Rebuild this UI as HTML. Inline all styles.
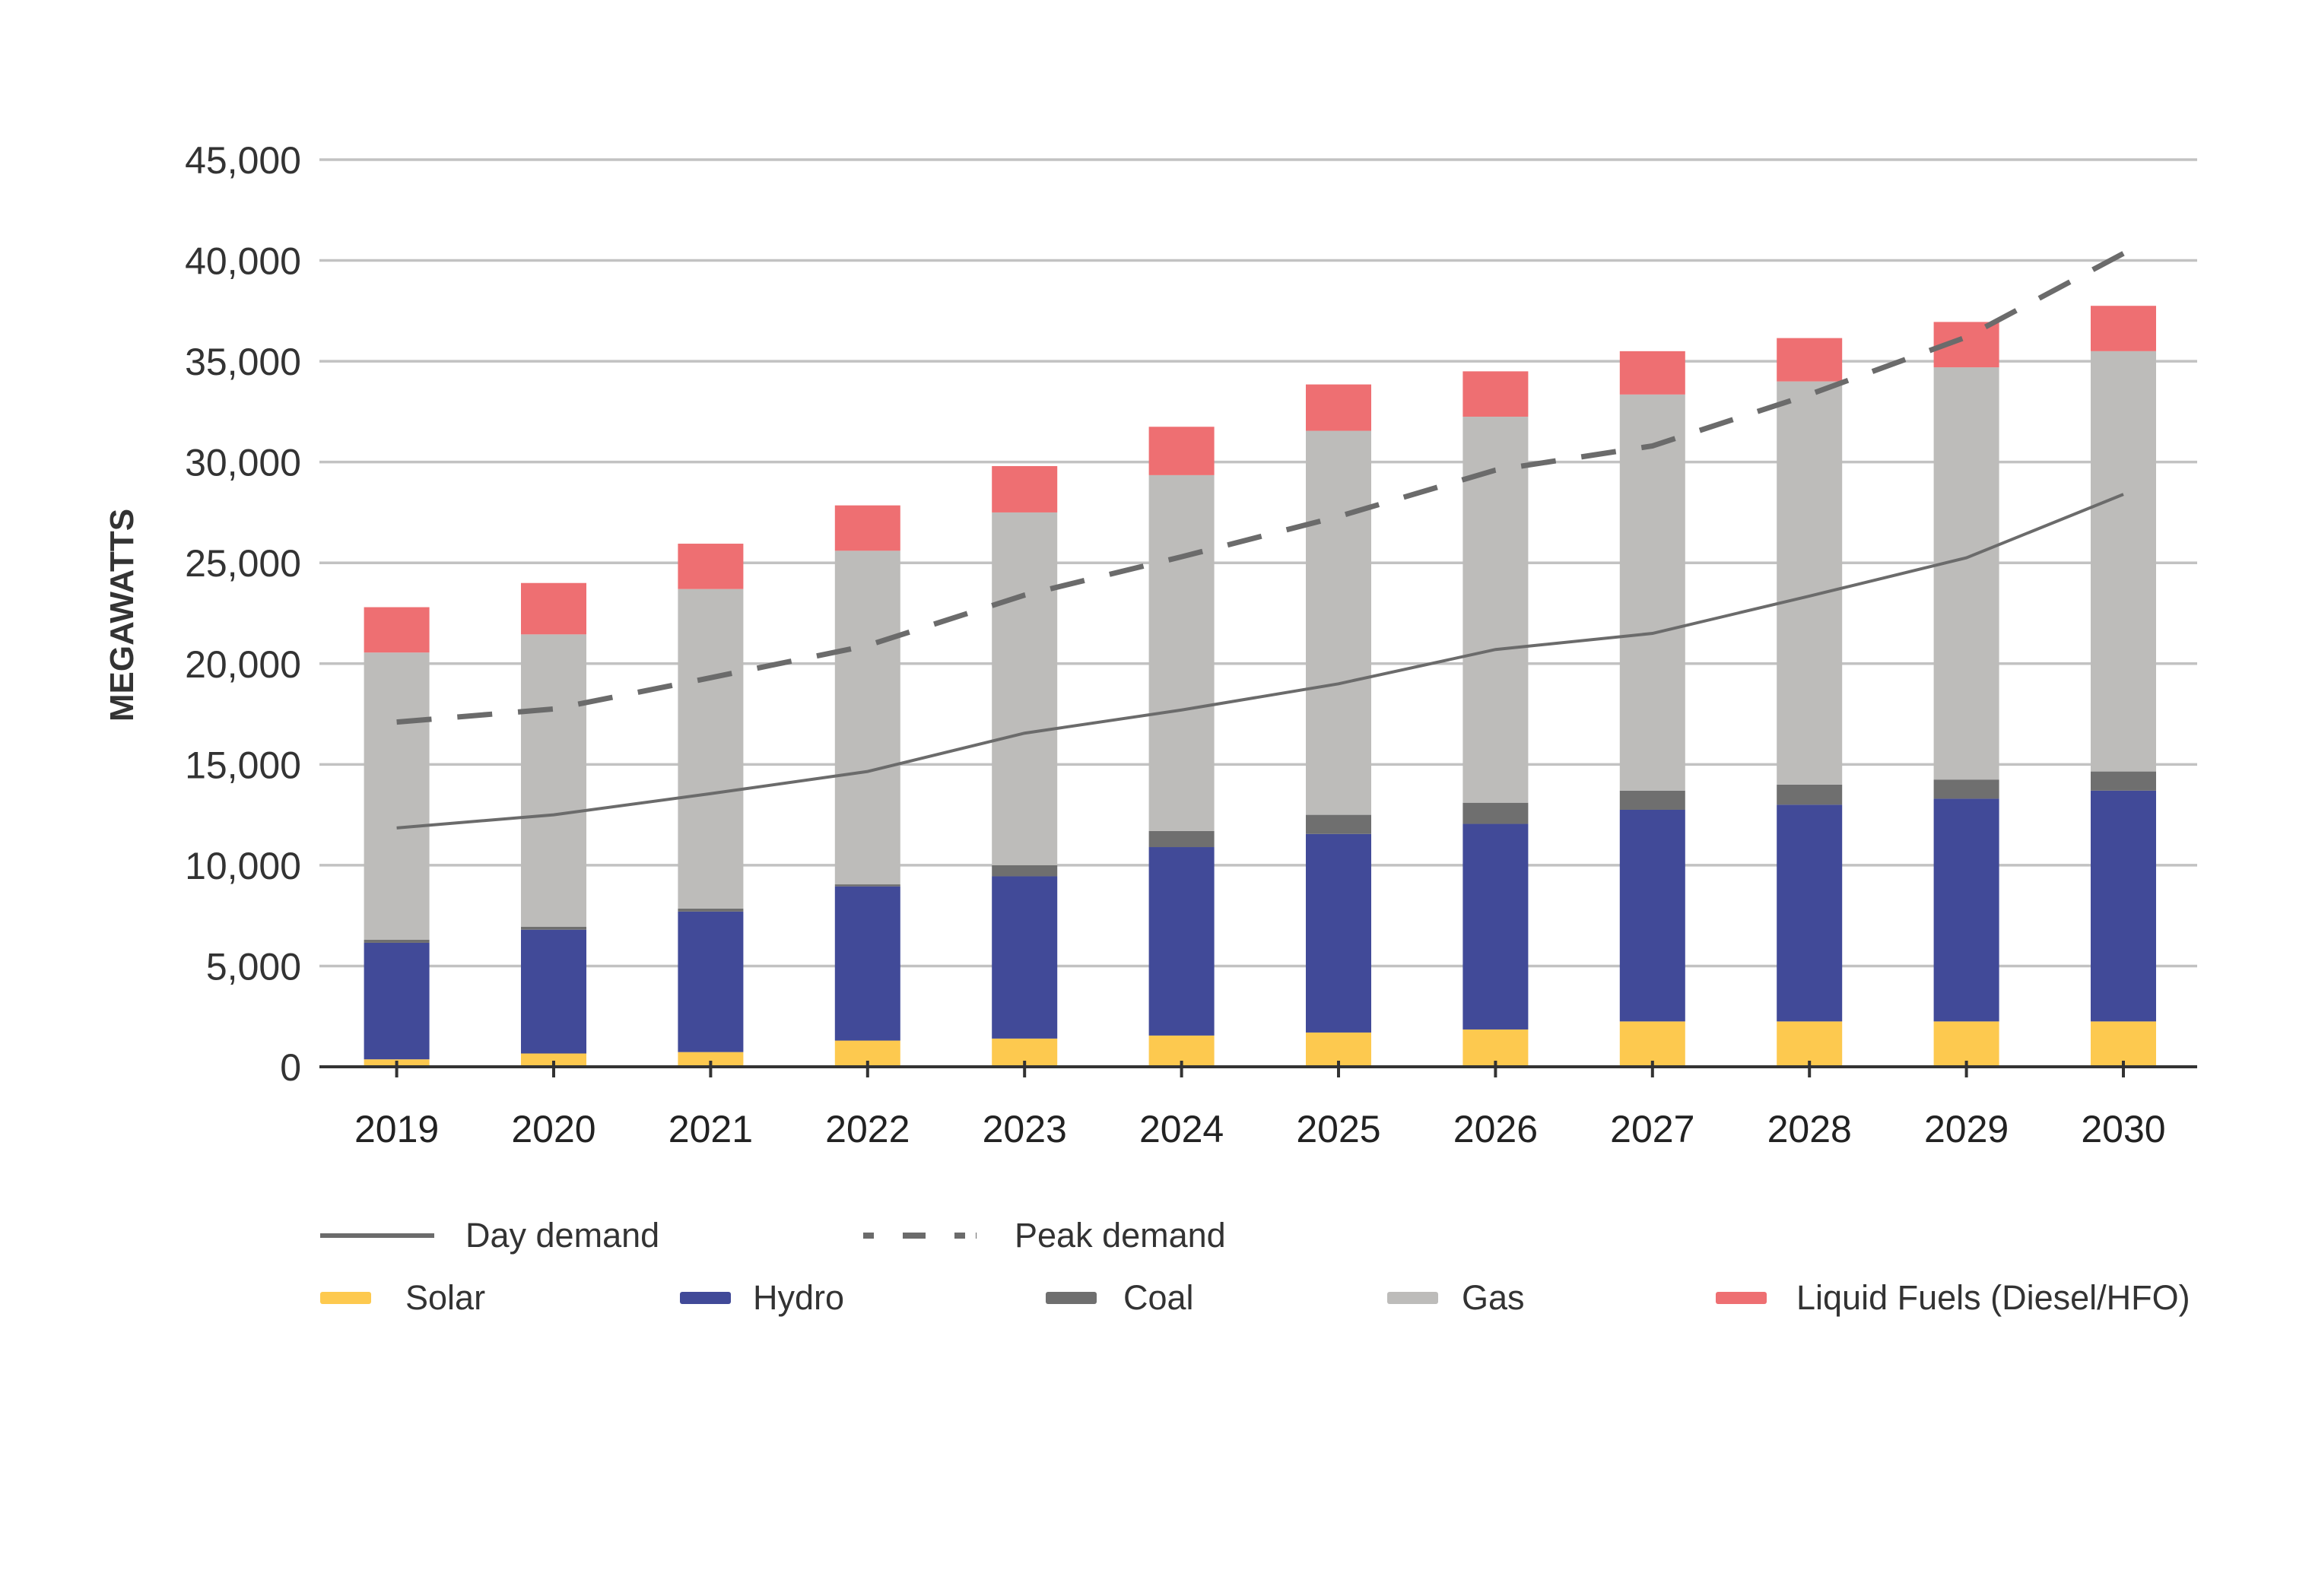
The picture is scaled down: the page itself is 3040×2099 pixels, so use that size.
<!DOCTYPE html>
<html><head><meta charset="utf-8"><style>
html,body{margin:0;padding:0;background:#fff;}
svg{display:block;font-family:"Liberation Sans",sans-serif;}
</style></head><body>
<svg id="chart" width="3040" height="2099" viewBox="0 0 3040 2099">
<g id="grid"></g>
<g id="ylabels"></g>
<g id="bars"></g>
<g id="lines"></g>
<g id="xaxis"></g>
<text transform="translate(175,809) rotate(-90)" text-anchor="middle" font-size="44" font-weight="bold" fill="#333">MEGAWATTS</text>
<g>
 <g><line x1="421" y1="1625" x2="571" y2="1625" stroke="#6b6b6b" stroke-width="6"/><text x="612" y="1640" font-size="45" fill="#333">Day demand</text></g>
 <g><line x1="1135" y1="1625" x2="1284" y2="1625" stroke="#6b6b6b" stroke-width="8" stroke-dasharray="14,38,30,38,14"/><text x="1334" y="1640" font-size="45" fill="#333">Peak demand</text></g>
 <g><rect x="421" y="1699" width="67" height="16" rx="3" fill="#FDC94F"/><text x="533" y="1722" font-size="45" fill="#333">Solar</text></g>
 <g><rect x="894" y="1699" width="67" height="16" rx="3" fill="#414A98"/><text x="990" y="1722" font-size="45" fill="#333">Hydro</text></g>
 <g><rect x="1375" y="1699" width="67" height="16" rx="3" fill="#6F6F6F"/><text x="1477" y="1722" font-size="45" fill="#333">Coal</text></g>
 <g><rect x="1824" y="1699" width="67" height="16" rx="3" fill="#BDBCBA"/><text x="1922" y="1722" font-size="45" fill="#333">Gas</text></g>
 <g><rect x="2256" y="1699" width="67" height="16" rx="3" fill="#EE6F72"/><text x="2362" y="1722" font-size="45" fill="#333">Liquid Fuels (Diesel/HFO)</text></g>
</g>
</svg>
<script>
const years = ["2019","2020","2021","2022","2023","2024","2025","2026","2027","2028","2029","2030"];
const solarTop = [370,660,730,1300,1400,1550,1700,1850,2250,2250,2250,2250];
const hydroTop = [6150,6800,7700,8950,9450,10900,11550,12050,12750,13000,13300,13700];
const coalTop = [6300,6950,7850,9050,10000,11700,12500,13100,13700,14000,14250,14650];
const gasTop = [20550,21450,23700,25600,27500,29350,31550,32250,33350,34000,34700,35500];
const liquidTop = [22800,24000,25950,27850,29800,31750,33850,34500,35500,36150,36950,37750];
const dayDemand = [11850,12500,13550,14650,16550,17700,19000,20700,21500,23350,25250,28400];
const peakDemand = [17100,17750,19300,20900,23400,25300,27300,29600,30800,33350,36200,40350];
const yTicks = [0,5000,10000,15000,20000,25000,30000,35000,40000,45000];
const yTickLabels = ["0","5,000","10,000","15,000","20,000","25,000","30,000","35,000","40,000","45,000"];

const NS="http://www.w3.org/2000/svg";
const X0=420,X1=2889,Y0=1403,YTOP=210,VMAX=45000;
const y=v=>Y0-(v/VMAX)*(Y0-YTOP);
const FIRST=521.6,STEP=206.4;
const xc=i=>FIRST+STEP*i;
const BW=86;
function mk(tag,attrs,parent){const e=document.createElementNS(NS,tag);for(const k in attrs)e.setAttribute(k,attrs[k]);parent.appendChild(e);return e;}

const grid=document.getElementById('grid'),yl=document.getElementById('ylabels');
yTicks.forEach((t,i)=>{
  if(t>0){const l=mk('line',{x1:X0,x2:X1,y1:y(t),y2:y(t),stroke:'#c2c2c2','stroke-width':3.5},grid);
  
  }
  const tx=mk('text',{x:396,y:y(t)+18,'text-anchor':'end','font-size':50,fill:'#333'},yl);
  tx.textContent=yTickLabels[i];
  
  
});

const bars=document.getElementById('bars');
const series=[["solar",null,solarTop,"#FDC94F"],["hydro",solarTop,hydroTop,"#414A98"],["coal",hydroTop,coalTop,"#6F6F6F"],["gas",coalTop,gasTop,"#BDBCBA"],["liquid-fuels",gasTop,liquidTop,"#EE6F72"]];
years.forEach((yr,i)=>{
  series.forEach(s=>{
    const lo=s[1]?s[1][i]:0,hi=s[2][i];
    const r=mk('rect',{x:xc(i)-BW/2,width:BW,y:y(hi),height:Math.max(0,y(lo)-y(hi)),fill:s[3]},bars);
    
    
  });
});

const lines=document.getElementById('lines');
const pts=a=>a.map((v,i)=>xc(i)+','+y(v)).join(' ');
const dl=mk('polyline',{points:pts(dayDemand),fill:'none',stroke:'#6b6b6b','stroke-width':4},lines);


const pl=mk('polyline',{points:pts(peakDemand),fill:'none',stroke:'#6b6b6b','stroke-width':7,'stroke-dasharray':'46,34'},lines);



const xa=document.getElementById('xaxis');
const base=mk('line',{x1:X0,x2:X1,y1:Y0,y2:Y0,stroke:'#333','stroke-width':4},xa);


years.forEach((yr,i)=>{
  const tk=mk('line',{x1:xc(i),x2:xc(i),y1:Y0-8,y2:Y0+14,stroke:'#333','stroke-width':4},xa);
  
  
  const t=mk('text',{x:xc(i),y:1502,'text-anchor':'middle','font-size':50,fill:'#222'},xa);
  t.textContent=yr;
  
  
});
</script>
</body></html>
